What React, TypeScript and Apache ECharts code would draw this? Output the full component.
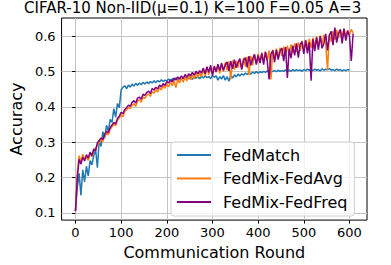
import React, { useEffect, useRef } from "react";
import * as echarts from "echarts";

const TITLE = "CIFAR-10 Non-IID(μ=0.1) K=100 F=0.05 A=3";
const X_LABEL = "Communication Round";
const Y_LABEL = "Accuracy";
const SERIES_NAMES = ["FedMatch", "FedMix-FedAvg", "FedMix-FedFreq"];
const X_TICKS = [0, 100, 200, 300, 400, 500, 600];
const Y_TICKS = [0.1, 0.2, 0.3, 0.4, 0.5, 0.6];
const ROUND_STEP = 4; // values below are sampled every 4 communication rounds, starting at round 0

const fedMatch = [
  0.105, 0.172, 0.212, 0.150, 0.222, 0.188, 0.232, 0.205, 0.248, 0.236,
  0.262, 0.281, 0.228, 0.305, 0.288, 0.330, 0.312, 0.348, 0.331, 0.365,
  0.356, 0.395, 0.371, 0.410, 0.398, 0.448, 0.456, 0.460, 0.452, 0.462,
  0.456, 0.465, 0.459, 0.467, 0.461, 0.468, 0.463, 0.470, 0.465, 0.471,
  0.466, 0.472, 0.468, 0.474, 0.469, 0.475, 0.471, 0.477, 0.472, 0.476,
  0.474, 0.479, 0.475, 0.480, 0.476, 0.482, 0.477, 0.481, 0.478, 0.483,
  0.479, 0.484, 0.480, 0.485, 0.478, 0.486, 0.481, 0.487, 0.480, 0.488,
  0.482, 0.488, 0.483, 0.486, 0.480, 0.489, 0.484, 0.488, 0.476, 0.486,
  0.479, 0.489, 0.476, 0.486, 0.473, 0.490, 0.482, 0.491, 0.485, 0.493,
  0.488, 0.494, 0.490, 0.496, 0.492, 0.498, 0.493, 0.499, 0.495, 0.500,
  0.496, 0.500, 0.497, 0.501, 0.498, 0.502, 0.499, 0.503, 0.500, 0.503,
  0.500, 0.504, 0.501, 0.503, 0.501, 0.505, 0.502, 0.504, 0.501, 0.506,
  0.502, 0.506, 0.503, 0.505, 0.501, 0.506, 0.503, 0.507, 0.504, 0.506,
  0.503, 0.507, 0.504, 0.506, 0.502, 0.508, 0.504, 0.507, 0.505, 0.509,
  0.504, 0.506, 0.503, 0.507, 0.504, 0.506, 0.502, 0.505, 0.503, 0.506,
  0.504,
];

const fedMixFedAvg = [
  0.105, 0.215, 0.262, 0.245, 0.266, 0.252, 0.258, 0.249, 0.268, 0.259,
  0.276, 0.283, 0.291, 0.298, 0.309, 0.302, 0.318, 0.325, 0.321, 0.337,
  0.344, 0.351, 0.347, 0.362, 0.369, 0.378, 0.372, 0.388, 0.392, 0.398,
  0.395, 0.405, 0.409, 0.402, 0.416, 0.421, 0.413, 0.428, 0.424, 0.433,
  0.437, 0.430, 0.444, 0.439, 0.449, 0.442, 0.455, 0.448, 0.460, 0.453,
  0.465, 0.457, 0.470, 0.460, 0.474, 0.455, 0.478, 0.468, 0.482, 0.470,
  0.486, 0.474, 0.489, 0.477, 0.492, 0.479, 0.496, 0.484, 0.498, 0.486,
  0.506, 0.488, 0.510, 0.492, 0.514, 0.494, 0.516, 0.498, 0.519, 0.495,
  0.522, 0.500, 0.526, 0.504, 0.529, 0.478, 0.532, 0.506, 0.530, 0.512,
  0.535, 0.508, 0.539, 0.514, 0.542, 0.490, 0.545, 0.518, 0.548, 0.522,
  0.551, 0.526, 0.554, 0.530, 0.557, 0.533, 0.560, 0.478, 0.562, 0.538,
  0.565, 0.540, 0.568, 0.544, 0.571, 0.547, 0.574, 0.550, 0.577, 0.553,
  0.580, 0.556, 0.583, 0.559, 0.587, 0.562, 0.590, 0.565, 0.593, 0.568,
  0.596, 0.571, 0.599, 0.574, 0.602, 0.577, 0.604, 0.580, 0.505, 0.606,
  0.585, 0.615, 0.590, 0.618, 0.595, 0.620, 0.598, 0.622, 0.600, 0.617,
  0.604, 0.620, 0.610,
];

const fedMixFedFreq = [
  0.105, 0.198, 0.252, 0.238, 0.258, 0.247, 0.265, 0.255, 0.272, 0.262,
  0.281, 0.276, 0.298, 0.305, 0.312, 0.308, 0.322, 0.331, 0.327, 0.342,
  0.349, 0.356, 0.352, 0.368, 0.374, 0.385, 0.381, 0.393, 0.398, 0.405,
  0.402, 0.413, 0.418, 0.411, 0.425, 0.428, 0.422, 0.436, 0.433, 0.441,
  0.445, 0.438, 0.452, 0.448, 0.456, 0.451, 0.462, 0.457, 0.466, 0.461,
  0.472, 0.468, 0.476, 0.471, 0.482, 0.476, 0.485, 0.479, 0.488, 0.481,
  0.492, 0.485, 0.494, 0.488, 0.498, 0.490, 0.501, 0.494, 0.503, 0.496,
  0.510, 0.494, 0.514, 0.498, 0.518, 0.489, 0.515, 0.500, 0.521, 0.503,
  0.524, 0.504, 0.518, 0.528, 0.502, 0.530, 0.508, 0.534, 0.511, 0.527,
  0.537, 0.506, 0.532, 0.540, 0.512, 0.544, 0.518, 0.536, 0.549, 0.520,
  0.546, 0.524, 0.552, 0.520, 0.556, 0.530, 0.478, 0.550, 0.560, 0.526,
  0.562, 0.534, 0.558, 0.567, 0.530, 0.570, 0.482, 0.565, 0.538, 0.574,
  0.546, 0.580, 0.540, 0.577, 0.585, 0.550, 0.589, 0.552, 0.583, 0.474,
  0.592, 0.558, 0.597, 0.562, 0.601, 0.566, 0.580, 0.607, 0.560, 0.603,
  0.614, 0.575, 0.625, 0.582, 0.610, 0.619, 0.580, 0.622, 0.588, 0.616,
  0.600, 0.530, 0.608,
];

const COLORS = ["#1f77b4", "#ff7f0e", "#800080"];
const FONT = "DejaVu Sans";

function toPairs(values: number[]) {
  return values.map((v, i) => [i * ROUND_STEP, v]);
}

export default function App() {
  const ref = useRef<HTMLDivElement>(null);
  useEffect(() => {
    if (!ref.current) return;
    const chart = echarts.init(ref.current, undefined, { renderer: "svg" });
    const seriesValues = [fedMatch, fedMixFedAvg, fedMixFedFreq];
    chart.setOption({
      animation: false,
      backgroundColor: "#ffffff",
      title: {
        text: TITLE,
        left: 24,
        top: 0,
        padding: 0,
        textStyle: { fontFamily: FONT, fontSize: 15, fontWeight: "normal", color: "#000" },
      },
      grid: {
        left: 47,
        right: 24,
        top: 18,
        bottom: 39,
        show: true,
        borderColor: "#000",
        borderWidth: 1,
        backgroundColor: "transparent",
      },
      legend: {
        orient: "vertical",
        left: 171,
        top: 142,
        padding: [5, 7, 6, 6],
        icon: "rect",
        itemWidth: 34,
        itemHeight: 2,
        itemGap: 7.5,
        backgroundColor: "rgba(255,255,255,0.8)",
        borderColor: "#d0d0d0",
        borderWidth: 1,
        borderRadius: 3,
        textStyle: { fontFamily: FONT, fontSize: 16, color: "#000", padding: [0, 0, 0, 7] },
        data: SERIES_NAMES,
      },
      xAxis: {
        type: "value",
        min: -30.4,
        max: 638.4,
        name: X_LABEL,
        nameLocation: "middle",
        nameGap: 22,
        nameTextStyle: { fontFamily: FONT, fontSize: 16, color: "#000" },
        axisLine: { show: false },
        axisTick: { show: true, length: 3.5, lineStyle: { color: "#000" }, customValues: X_TICKS },
        axisLabel: {
          customValues: X_TICKS,
          margin: 6,
          fontFamily: FONT,
          fontSize: 13,
          color: "#000",
        },
        splitLine: { show: true, lineStyle: { color: "#c4c4c4", width: 1 } },
      },
      yAxis: {
        type: "value",
        min: 0.0795,
        max: 0.652,
        name: Y_LABEL,
        nameLocation: "middle",
        nameRotate: 90,
        nameGap: 32,
        nameTextStyle: { fontFamily: FONT, fontSize: 16, color: "#000" },
        axisLine: { show: false },
        axisTick: { show: true, length: 3.5, lineStyle: { color: "#000" }, customValues: Y_TICKS },
        axisLabel: {
          customValues: Y_TICKS,
          margin: 6,
          fontFamily: FONT,
          fontSize: 13,
          color: "#000",
          formatter: (v: number) => v.toFixed(1),
        },
        splitLine: { show: true, lineStyle: { color: "#c4c4c4", width: 1 } },
      },
      series: SERIES_NAMES.map((name, i) => ({
        name,
        type: "line",
        data: toPairs(seriesValues[i]),
        showSymbol: false,
        symbol: "none",
        color: COLORS[i],
        lineStyle: { color: COLORS[i], width: 1.5 },
        emphasis: { disabled: true },
        z: 2 + i,
      })),
    });
    return () => chart.dispose();
  }, []);
  return (
    <div
      ref={ref}
      style={{ position: "fixed", left: 0, top: 0, width: 391, height: 265 }}
    />
  );
}
